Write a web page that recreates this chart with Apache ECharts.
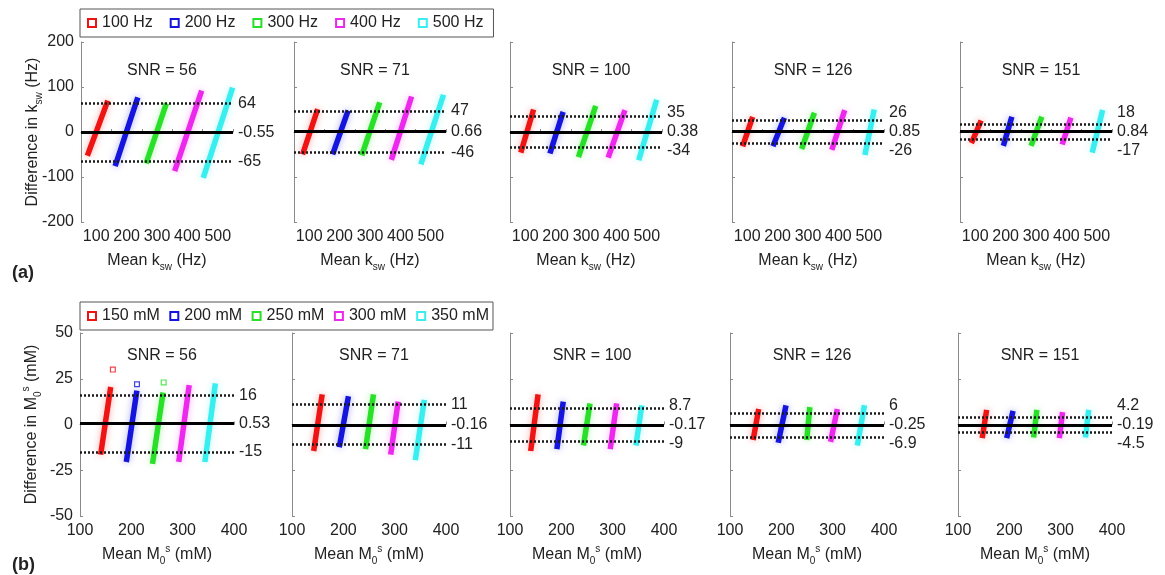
<!DOCTYPE html>
<html>
<head>
<meta charset="utf-8">
<script src="https://cdn.jsdelivr.net/npm/echarts@6/dist/echarts.min.js"></script>
<style>
  html, body { margin: 0; padding: 0; background: #fff; }
  #main { width: 1165px; height: 575px; }
</style>
</head>
<body>
<div id="main"></div>
<script>
// categories
var kswCats = ['100 Hz', '200 Hz', '300 Hz', '400 Hz', '500 Hz'];
var m0Cats = ['150 mM', '200 mM', '250 mM', '300 mM', '350 mM'];
var snrValues = [56, 71, 100, 126, 151];
var catColors = ['#ee1414', '#1414dc', '#28e028', '#ec28ec', '#38eeee'];

// streak ends [mean, difference], per SNR panel, per category
var kswStreaks = [
  [[[74, -47], [135, 64]], [[165, -70], [234, 71]], [[267, -64], [328, 58]], [[361, -81], [444, 86]], [[455, -96], [546, 93]]],
  [[[81, -44], [125, 45]], [[180, -44], [225, 42]], [[276, -46], [329, 60]], [[373, -56], [434, 73]], [[470, -66], [539, 77]]],
  [[[88, -40], [125, 44]], [[184, -42], [222, 39]], [[278, -50], [329, 52]], [[376, -51], [425, 43]], [[476, -57], [530, 66]]],
  [[[88, -26], [115, 28]], [[188, -26], [219, 26]], [[282, -32], [318, 37]], [[381, -34], [418, 43]], [[489, -45], [516, 44]]],
  [[[91, -19], [116, 20]], [[195, -25], [218, 28]], [[287, -25], [316, 28]], [[389, -22], [412, 26]], [[487, -40], [517, 43]]]
];
var m0Streaks = [
  [[[141, -15], [159, 19]], [[191, -19], [210, 17]], [[242, -20], [261, 16]], [[293, -19], [312, 20]], [[344, -19], [363, 21]]],
  [[[143, -13], [158, 15]], [[193, -11], [209, 14]], [[244, -12], [258, 15]], [[293, -15], [306, 11]], [[341, -18], [357, 12]]],
  [[[141, -13], [154, 15]], [[192, -12], [203, 11]], [[244, -10], [255, 10]], [[296, -12], [307, 10]], [[346, -10], [356, 9]]],
  [[[146, -7], [155, 7]], [[195, -8.5], [208, 9]], [[250, -7], [255, 8]], [[297, -8], [308, 7]], [[349, -10], [361, 9]]],
  [[[148, -6], [155, 6.5]], [[196, -6], [206, 6]], [[248, -5.6], [253, 6.5]], [[298, -6], [303, 5.3]], [[349, -5.6], [354, 6.5]]]
];
// stray points, SNR = 56 panel of (b): [category index, mean, difference]
var m0Outliers = [[0, 164, 30], [1, 211, 22], [2, 263, 23]];

// limits of agreement and bias
var kswUpper = [64, 47, 35, 26, 18];
var kswBias = [-0.55, 0.66, 0.38, 0.85, 0.84];
var kswLower = [-65, -46, -34, -26, -17];
var m0Upper = [16, 11, 8.7, 6, 4.2];
var m0Bias = [0.53, -0.16, -0.17, -0.25, -0.19];
var m0Lower = [-15, -11, -9, -6.9, -4.5];

var FONT = '"Liberation Sans", Arial, sans-serif';
var FS = 16;
var TXT = '#222';
var AXC = '#8a8a8a';
var openSquare = 'path://M0,0H10V10H0Z M2,2V8H8V2Z';

var myChart = echarts.init(document.getElementById('main'));

var rows = [
  {
    lefts: [81, 294, 510, 732, 960], width: 152, top: 42, height: 180,
    xMin: 50, xMax: 550, xInt: 50, yMin: -200, yMax: 200, yInt: 100,
    cats: kswCats, streaks: kswStreaks, upper: kswUpper, bias: kswBias, lower: kswLower,
    yName: '{n|Difference in k}{s|sw}{n| (Hz)}',
    xName: '{n|Mean k}{s|sw}{n| (Hz)}',
    xFmt: function(v) { return (v % 100 === 0) ? String(v) : ''; },
    titleTop: 58, legendTop: 9, itemGap: 17, legendPad: [6, 10, 6, 7],
    tag: '(a)', tagTop: 259
  },
  {
    lefts: [80, 292, 510, 730, 958], width: 154, top: 333, height: 183,
    xMin: 100, xMax: 400, xInt: 100, yMin: -50, yMax: 50, yInt: 25,
    cats: m0Cats, streaks: m0Streaks, upper: m0Upper, bias: m0Bias, lower: m0Lower,
    yName: '{n|Difference in M}{s|0}{p|s}{n| (mM)}',
    xName: '{n|Mean M}{s|0}{p|s}{n| (mM)}',
    xFmt: function(v) { return String(v); },
    titleTop: 343, legendTop: 302, itemGap: 9.5, legendPad: [6, 4, 6, 7],
    tag: '(b)', tagTop: 551
  }
];

var richName = {
  n: { fontSize: FS, fontFamily: FONT, color: TXT, lineHeight: 22 },
  s: { fontSize: 10, fontFamily: FONT, color: TXT, lineHeight: 22, verticalAlign: 'bottom' },
  p: { fontSize: 10, fontFamily: FONT, color: TXT, lineHeight: 22, verticalAlign: 'top' }
};

// end label of a horizontal line, nudged up (dir < 0) or down (dir > 0) by shift px
function endLabel(v, shift, dir) {
  var txt = String(v);
  var lh = 18;
  if (shift > 0.5) {
    lh = 2 * shift;
    txt = dir < 0 ? txt + '\n ' : ' \n' + txt;
  }
  return {
    show: true, position: 'end', distance: 5,
    formatter: txt, lineHeight: lh,
    fontSize: FS, fontFamily: FONT, color: TXT
  };
}

var grids = [], xAxes = [], yAxes = [], series = [], titles = [], legends = [];

rows.forEach(function(row, r) {
  var ppu = row.height / (row.yMax - row.yMin);
  var minSep = 19;
  legends.push({
    data: row.cats,
    left: 80, top: row.legendTop,
    orient: 'horizontal',
    icon: openSquare,
    itemWidth: 10, itemHeight: 10,
    itemGap: row.itemGap,
    padding: row.legendPad,
    borderColor: '#555', borderWidth: 1,
    backgroundColor: '#fff',
    textStyle: { fontSize: FS, fontFamily: FONT, color: TXT }
  });
  titles.push({
    text: row.tag, left: 7, top: row.tagTop,
    textStyle: { fontSize: 18, fontWeight: 'bold', fontFamily: FONT, color: TXT }
  });

  for (var p = 0; p < 5; p++) {
    var idx = r * 5 + p;
    var left = row.lefts[p];
    grids.push({ left: left, top: row.top, width: row.width, height: row.height, containLabel: false });
    xAxes.push({
      type: 'value', gridIndex: idx,
      min: row.xMin, max: row.xMax, interval: row.xInt,
      axisLine: { show: true, lineStyle: { color: AXC, width: 1 } },
      axisTick: { show: true, inside: true, length: 3, lineStyle: { color: AXC } },
      splitLine: { show: false },
      axisLabel: { formatter: row.xFmt, margin: 7, fontSize: FS, fontFamily: FONT, color: TXT },
      name: row.xName, nameLocation: 'middle', nameGap: 28,
      nameTextStyle: { rich: richName }
    });
    yAxes.push({
      type: 'value', gridIndex: idx,
      min: row.yMin, max: row.yMax, interval: row.yInt,
      axisLine: { show: true, lineStyle: { color: AXC, width: 1 } },
      axisTick: { show: true, inside: true, length: 3, lineStyle: { color: AXC } },
      splitLine: { show: false },
      axisLabel: { show: p === 0, margin: 7, fontSize: FS, fontFamily: FONT, color: TXT },
      name: p === 0 ? row.yName : '',
      nameLocation: 'middle', nameGap: 37, nameMoveOverlap: false,
      nameTextStyle: { rich: richName }
    });
    titles.push({
      text: 'SNR = ' + snrValues[p],
      left: left + row.width / 2, textAlign: 'center', top: row.titleTop,
      textStyle: { fontSize: FS, fontWeight: 'normal', fontFamily: FONT, color: TXT }
    });

    // streaks, one per category
    for (var c = 0; c < 5; c++) {
      series.push({
        name: row.cats[c], type: 'line',
        xAxisIndex: idx, yAxisIndex: idx,
        data: row.streaks[p][c],
        symbol: 'none', z: 2,
        itemStyle: { color: catColors[c] },
        lineStyle: {
          color: catColors[c], width: 5.5, cap: 'square',
          shadowBlur: 7, shadowColor: echarts.color.modifyAlpha(catColors[c], 0.35)
        }
      });
    }

    // bias and limits of agreement, labels kept apart
    var up = row.upper[p], bi = row.bias[p], lo = row.lower[p];
    var shUp = Math.max(0, minSep - (up - bi) * ppu);
    var shLo = Math.max(0, minSep - (bi - lo) * ppu);
    series.push({
      type: 'line', xAxisIndex: idx, yAxisIndex: idx, data: [], z: 4,
      markLine: {
        silent: true, symbol: 'none', animation: false,
        data: [
          { yAxis: up, lineStyle: { color: '#1a1a1a', width: 2.5, type: [2, 2] }, label: endLabel(up, shUp, -1) },
          { yAxis: bi, lineStyle: { color: '#000', width: 2.8, type: 'solid' }, label: endLabel(bi, 0, 0) },
          { yAxis: lo, lineStyle: { color: '#1a1a1a', width: 2.5, type: [2, 2] }, label: endLabel(lo, shLo, 1) }
        ]
      }
    });
  }
});

// stray points in the first M0 panel
m0Outliers.forEach(function(o) {
  series.push({
    name: m0Cats[o[0]], type: 'scatter',
    xAxisIndex: 5, yAxisIndex: 5,
    data: [[o[1], o[2]]],
    symbol: openSquare, symbolSize: 6, z: 2,
    itemStyle: { color: catColors[o[0]] }
  });
});

var option = {
  backgroundColor: '#fff',
  animation: false,
  textStyle: { fontFamily: FONT },
  title: titles,
  legend: legends,
  grid: grids,
  xAxis: xAxes,
  yAxis: yAxes,
  series: series
};

myChart.setOption(option);
</script>
</body>
</html>
